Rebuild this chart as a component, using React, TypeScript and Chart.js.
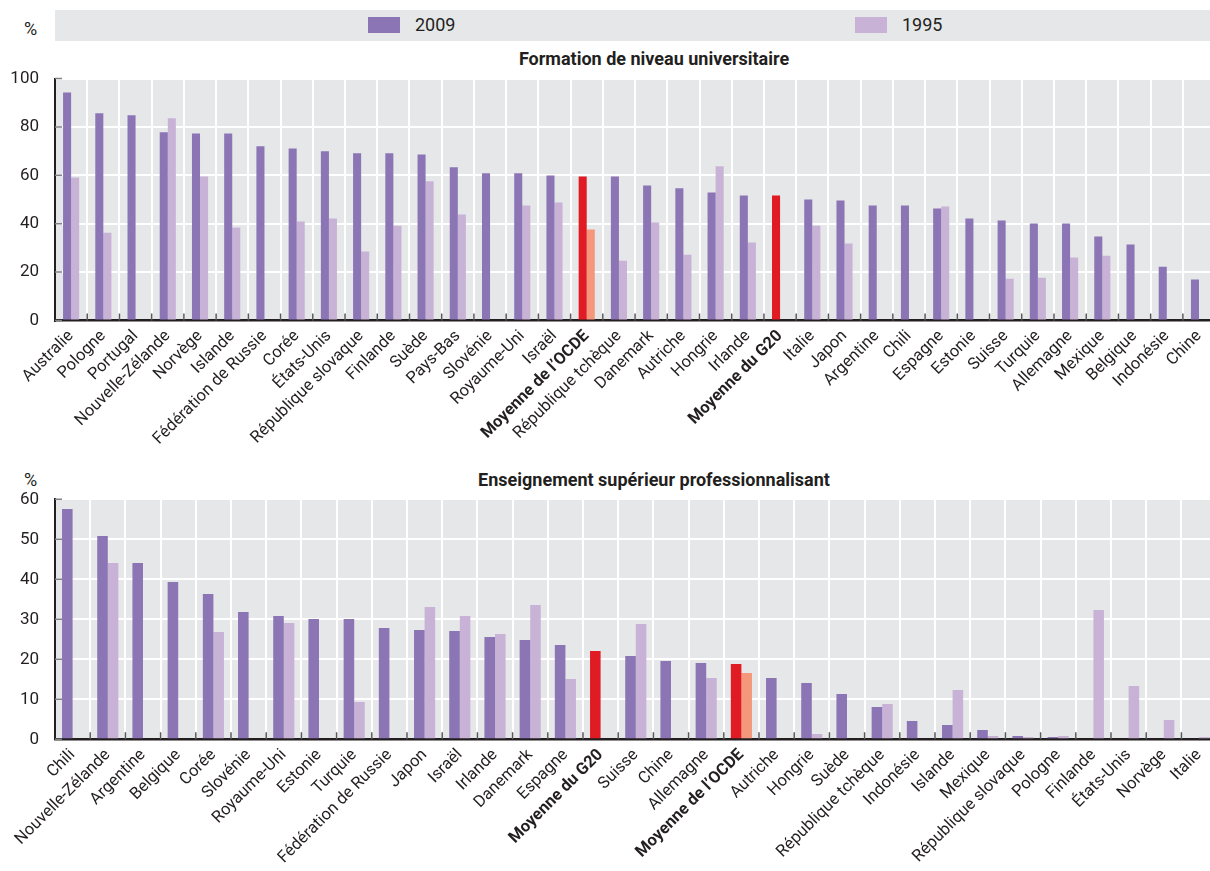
import { useEffect, useRef } from "react";
import { Chart, registerables } from "chart.js";
import type { Plugin } from "chart.js";

Chart.register(...registerables);

const FONT = "Roboto, 'Liberation Sans', sans-serif";
const INK = "#231f20";
const PURPLE = "#8b75b5";
const LILAC = "#c8b3d7";
const RED = "#e01b24";
const SALMON = "#f5977a";
const PLOT_BG = "#e6e7e9";

// Formation de niveau universitaire
const uniLabels = [
  "Australie", "Pologne", "Portugal", "Nouvelle-Zélande", "Norvège", "Islande",
  "Fédération de Russie", "Corée", "États-Unis", "République slovaque", "Finlande",
  "Suède", "Pays-Bas", "Slovénie", "Royaume-Uni", "Israël", "Moyenne de l’OCDE",
  "République tchèque", "Danemark", "Autriche", "Hongrie", "Irlande", "Moyenne du G20",
  "Italie", "Japon", "Argentine", "Chili", "Espagne", "Estonie", "Suisse", "Turquie",
  "Allemagne", "Mexique", "Belgique", "Indonésie", "Chine",
];
const uni2009 = [
  94.2, 85.6, 84.8, 77.8, 77.3, 77.3, 72.0, 71.1, 69.9, 69.1, 69.1, 68.6, 63.3, 60.8,
  60.8, 59.9, 59.5, 59.5, 55.8, 54.6, 52.9, 51.7, 51.7, 50.0, 49.6, 47.5, 47.5, 46.3,
  42.1, 41.3, 40.1, 40.1, 34.7, 31.4, 22.2, 16.9,
];
const uni1995 = [
  59.1, 36.3, null, 83.6, 59.5, 38.4, null, 40.9, 42.1, 28.5, 39.2, 57.5, 43.8, null,
  47.5, 48.8, 37.6, 24.7, 40.5, 27.2, 63.7, 32.2, null, 39.2, 31.8, null, null, 47.1,
  null, 17.3, 17.7, 26.0, 26.8, null, null, null,
];
const uniTicks = [0, 20, 40, 60, 80, 100];

// Enseignement supérieur professionnalisant
const proLabels = [
  "Chili", "Nouvelle-Zélande", "Argentine", "Belgique", "Corée", "Slovénie",
  "Royaume-Uni", "Estonie", "Turquie", "Fédération de Russie", "Japon", "Israël",
  "Irlande", "Danemark", "Espagne", "Moyenne du G20", "Suisse", "Chine", "Allemagne",
  "Moyenne de l’OCDE", "Autriche", "Hongrie", "Suède", "République tchèque",
  "Indonésie", "Islande", "Mexique", "République slovaque", "Pologne", "Finlande",
  "États-Unis", "Norvège", "Italie",
];
const pro2009 = [
  57.6, 50.8, 44.1, 39.3, 36.3, 31.8, 30.8, 30.1, 30.1, 27.8, 27.3, 27.1, 25.6, 24.8,
  23.6, 22.1, 20.8, 19.6, 19.1, 18.8, 15.3, 14.1, 11.3, 8.1, 4.6, 3.6, 2.3, 0.8, 0.6,
  null, null, null, null,
];
const pro1995 = [
  null, 44.1, null, null, 26.8, null, 29.1, null, 9.3, null, 33.1, 30.8, 26.3, 33.6,
  15.1, null, 28.8, null, 15.3, 16.6, null, 1.3, null, 8.8, null, 12.3, 0.8, 0.6, 0.8,
  32.3, 13.3, 4.8, 0.6,
];
const proTicks = [0, 10, 20, 30, 40, 50, 60];

const isAverage = (label: string) => label.startsWith("Moyenne");

// gray plot background + short dark ticks pointing into the plot
const panelPlugin: Plugin<"bar"> = {
  id: "panel",
  beforeDraw(chart) {
    const { ctx, chartArea: a } = chart;
    ctx.save();
    ctx.fillStyle = PLOT_BG;
    ctx.fillRect(a.left, a.top, a.right - a.left, a.bottom - a.top);
    ctx.restore();
  },
  afterDatasetsDraw(chart) {
    const { ctx, chartArea: a, scales } = chart;
    const x = scales.x;
    const y = scales.y;
    ctx.save();
    ctx.lineWidth = 1.5;
    ctx.strokeStyle = "#58595b";
    ctx.beginPath();
    for (let i = 1; i < x.ticks.length; i++) {
      const px = (x.getPixelForTick(i - 1) + x.getPixelForTick(i)) / 2;
      ctx.moveTo(px, a.bottom);
      ctx.lineTo(px, a.bottom - 7);
    }
    ctx.stroke();
    ctx.strokeStyle = "#808285";
    ctx.beginPath();
    y.ticks.forEach((t) => {
      const py = y.getPixelForValue(t.value);
      ctx.moveTo(a.left, py);
      ctx.lineTo(a.left + 7, py);
    });
    ctx.stroke();
    ctx.restore();
  },
};

interface PanelProps {
  labels: string[];
  current: (number | null)[];
  previous: (number | null)[];
  yTicks: number[];
  top: number;
  height: number;
  areaTop: number;
  axisHeight: number;
  barShare: number;
}

function BarPanel({ labels, current, previous, yTicks, top, height, areaTop, axisHeight, barShare }: PanelProps) {
  const canvasRef = useRef<HTMLCanvasElement | null>(null);

  useEffect(() => {
    const canvas = canvasRef.current;
    if (!canvas) return;
    const chart = new Chart(canvas, {
      type: "bar",
      data: {
        labels,
        datasets: [
          {
            label: "2009",
            data: current,
            backgroundColor: labels.map((l) => (isAverage(l) ? RED : PURPLE)),
            categoryPercentage: barShare,
            barPercentage: 1,
          },
          {
            label: "1995",
            data: previous,
            backgroundColor: labels.map((l) => (isAverage(l) ? SALMON : LILAC)),
            categoryPercentage: barShare,
            barPercentage: 1,
          },
        ],
      },
      plugins: [panelPlugin],
      options: {
        responsive: false,
        animation: false,
        devicePixelRatio: 1,
        layout: { padding: { top: areaTop, left: 0, right: 0, bottom: 0 } },
        plugins: {
          legend: { display: false },
          tooltip: { enabled: false },
          title: { display: false },
        },
        scales: {
          x: {
            grid: { color: "#ffffff", lineWidth: 2, drawTicks: false },
            border: { color: INK, width: 2.5 },
            ticks: {
              autoSkip: false,
              maxRotation: 45,
              minRotation: 45,
              padding: 6,
              color: INK,
              font: (ctx) => ({
                family: FONT,
                size: 16.5,
                weight: isAverage(String(labels[ctx.index] ?? "")) ? "bold" : "normal",
              }),
            },
            afterFit: (scale) => {
              scale.height = axisHeight;
            },
          },
          y: {
            min: 0,
            max: yTicks[yTicks.length - 1],
            afterBuildTicks: (scale) => {
              scale.ticks = yTicks.map((value) => ({ value }));
            },
            grid: { color: "#ffffff", lineWidth: 2, drawTicks: false },
            border: { color: INK, width: 2 },
            ticks: { padding: 16, color: INK, font: { family: FONT, size: 17 } },
            afterFit: (scale) => {
              scale.width = 55;
            },
          },
        },
      },
    });
    return () => chart.destroy();
  }, [labels, current, previous, yTicks, areaTop, axisHeight, barShare]);

  return (
    <canvas
      ref={canvasRef}
      width={1219}
      height={height}
      style={{ position: "absolute", left: 0, top, width: 1219, height }}
    />
  );
}

const text = (size: number, bold = false): React.CSSProperties => ({
  position: "absolute",
  fontFamily: FONT,
  fontSize: size,
  lineHeight: `${size}px`,
  fontWeight: bold ? "bold" : "normal",
  color: INK,
  whiteSpace: "nowrap",
});

export default function App() {
  return (
    <div
      style={{
        position: "absolute",
        left: 0,
        top: 0,
        width: 1210,
        height: 871,
        overflow: "hidden",
        background: "#ffffff",
      }}
    >
      <div style={{ ...text(18), left: 24, top: 20 }}>%</div>
      <div style={{ position: "absolute", left: 55, top: 10, width: 1164, height: 31, background: PLOT_BG }} />
      <div style={{ position: "absolute", left: 368, top: 17, width: 32, height: 16, background: PURPLE }} />
      <div style={{ ...text(18), left: 415, top: 16 }}>2009</div>
      <div style={{ position: "absolute", left: 855, top: 17, width: 32, height: 16, background: LILAC }} />
      <div style={{ ...text(18), left: 902, top: 16 }}>1995</div>

      <div style={{ ...text(18, true), left: 654, top: 49.5, transform: "translateX(-50%)" }}>
        Formation de niveau universitaire
      </div>
      <BarPanel
        labels={uniLabels}
        current={uni2009}
        previous={uni1995}
        yTicks={uniTicks}
        top={42}
        height={420}
        areaTop={36.5}
        axisHeight={141.5}
        barShare={0.5}
      />

      <div style={{ ...text(18), left: 24, top: 471 }}>%</div>
      <div style={{ ...text(18, true), left: 654, top: 471, transform: "translateX(-50%)" }}>
        Enseignement supérieur professionnalisant
      </div>
      <BarPanel
        labels={proLabels}
        current={pro2009}
        previous={pro1995}
        yTicks={proTicks}
        top={462}
        height={409}
        areaTop={37.3}
        axisHeight={131.7}
        barShare={0.6}
      />
    </div>
  );
}
